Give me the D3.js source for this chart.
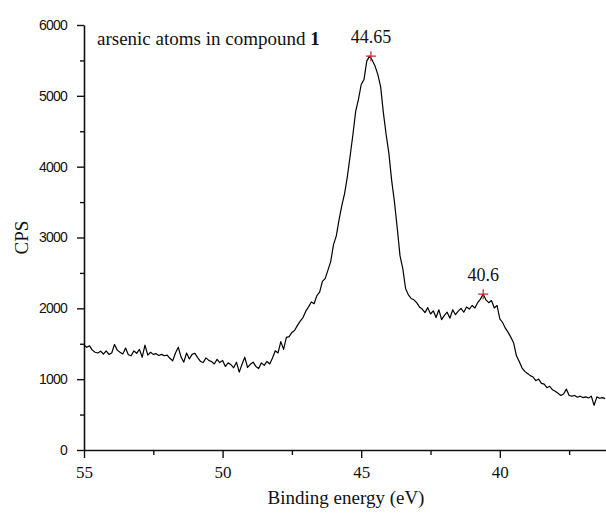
<!DOCTYPE html>
<html>
<head>
<meta charset="utf-8">
<script src="https://cdn.jsdelivr.net/npm/d3@7"></script>
<style>
    body { margin: 0; background: #fff; }
    .serif { font-family: "Liberation Serif", "Times New Roman", serif; fill: #111; }
    .y-axis text { font-family: "Liberation Sans", Arial, sans-serif; font-size: 14px; letter-spacing: -0.8px; fill: #111; }
    .x-axis text { font-family: "Liberation Serif", "Times New Roman", serif; font-size: 17px; fill: #111; }
</style>
</head>
<body>
<div id="chart"></div>
<script>
// binding energy runs from 55.0 down to 36.2 eV in 0.1 eV steps
const energyStart = 55.0;
const energyStep = 0.1;

// counts per second, one row per eV
const cps = [
    1480, 1450, 1470, 1410, 1380, 1370, 1395, 1355, 1400, 1350,
    1370, 1490, 1410, 1380, 1355, 1440, 1345, 1330, 1400, 1365,
    1420, 1310, 1480, 1340, 1380, 1350, 1360, 1335, 1350, 1330,
    1340, 1295, 1260, 1370, 1450, 1315, 1240, 1370, 1285, 1350,
    1365, 1305, 1250, 1235, 1300, 1265, 1250, 1215, 1280, 1235,
    1265, 1180, 1230, 1205, 1160, 1240, 1100, 1210, 1310, 1165,
    1210, 1240, 1180, 1150, 1230, 1195, 1250, 1215, 1300, 1400,
    1370, 1530, 1420, 1590, 1600, 1660, 1690, 1760, 1820, 1870,
    1960, 2020, 2090, 2065, 2180, 2230, 2380, 2420, 2540, 2660,
    2900, 3020, 3250, 3450, 3620, 3860, 4150, 4450, 4780, 4950,
    5160, 5230, 5490, 5560, 5500, 5420, 5300, 5130, 4760, 4450,
    4180, 3800, 3500, 3130, 2740, 2560, 2280, 2190, 2140, 2120,
    2080, 2020, 1990, 1940, 2010, 1920, 1965, 1870, 1980, 1840,
    1900, 1945, 1860, 1980, 1910, 1960, 2000, 1945, 2020, 1990,
    2040, 2005, 2080, 2130, 2200, 2120, 2080, 2110, 2005, 2040,
    1850, 1800, 1720, 1660, 1590, 1510, 1330, 1250, 1160, 1110,
    1080, 1050, 1030, 980, 1000, 940, 930, 880, 900, 850,
    830, 800, 770, 790, 860, 770, 760, 770, 745, 760,
    740, 750, 735, 760, 630, 750, 730, 740, 725
];

// marked peaks
const peakEnergy = [44.65, 40.6];
const peakCps = [5560, 2200];
const peakLabels = ["44.65", "40.6"];

const xTicks = [55, 50, 45, 40];
const xMinorTicks = [52.5, 47.5, 42.5, 37.5];
const yTicks = [0, 1000, 2000, 3000, 4000, 5000, 6000];
const yMinorTicks = [500, 1500, 2500, 3500, 4500, 5500];

class XpsChart {

    constructor(_parentElement) {
        this.parentElement = _parentElement;
        this.data = cps.map((v, i) => ({ energy: energyStart - i * energyStep, cps: v }));
        this.peaks = peakEnergy.map((e, i) => ({ energy: e, cps: peakCps[i], label: peakLabels[i] }));

        this.initVis();
    }

    initVis() {
        let vis = this;

        vis.margin = { top: 25, right: 0, bottom: 64, left: 84 };
        vis.width = 606 - vis.margin.left - vis.margin.right;
        vis.height = 514 - vis.margin.top - vis.margin.bottom;

        vis.svg = d3.select("#" + vis.parentElement).append("svg")
            .attr("width", 606)
            .attr("height", 514)
            .append("g")
            .attr("transform", "translate(" + vis.margin.left + "," + vis.margin.top + ")");

        // energy axis is reversed, high binding energy on the left
        vis.xScale = d3.scaleLinear()
            .domain([55, 36.17])
            .range([0, vis.width]);

        vis.yScale = d3.scaleLinear()
            .domain([0, 6000])
            .range([vis.height, 0]);

        vis.updateVis();
    }

    updateVis() {
        let vis = this;

        // minor ticks first, so the major axis draws on top
        vis.svg.append("g")
            .attr("class", "x-minor")
            .attr("transform", "translate(0," + vis.height + ")")
            .call(d3.axisBottom(vis.xScale).tickValues(xMinorTicks).tickSize(5).tickFormat(""))
            .call(g => g.select(".domain").remove());

        vis.svg.append("g")
            .attr("class", "y-minor")
            .call(d3.axisLeft(vis.yScale).tickValues(yMinorTicks).tickSize(4).tickFormat(""))
            .call(g => g.select(".domain").remove());

        vis.svg.append("g")
            .attr("class", "x-axis")
            .attr("transform", "translate(0," + vis.height + ")")
            .call(d3.axisBottom(vis.xScale).tickValues(xTicks).tickSize(8).tickSizeOuter(0).tickPadding(8).tickFormat(d3.format("d")));

        vis.svg.append("g")
            .attr("class", "y-axis")
            .call(d3.axisLeft(vis.yScale).tickValues(yTicks).tickSize(7).tickSizeOuter(0).tickPadding(10).tickFormat(d3.format("d")));

        vis.svg.selectAll(".domain").attr("stroke", "#111").attr("stroke-width", 1.6);
        vis.svg.selectAll(".tick line").attr("stroke", "#111").attr("stroke-width", 1.4);

        // spectrum
        const line = d3.line()
            .x(d => vis.xScale(d.energy))
            .y(d => vis.yScale(d.cps));

        vis.svg.append("path")
            .datum(vis.data)
            .attr("fill", "none")
            .attr("stroke", "#000")
            .attr("stroke-width", 1.2)
            .attr("stroke-linejoin", "round")
            .attr("d", line);

        // peak markers
        const peak = vis.svg.selectAll(".peak")
            .data(vis.peaks)
            .enter()
            .append("g")
            .attr("class", "peak")
            .attr("transform", d => "translate(" + vis.xScale(d.energy) + "," + vis.yScale(d.cps) + ")");

        peak.append("path")
            .attr("d", "M-5,0H5M0,-5V5")
            .attr("stroke", "#d4202c")
            .attr("stroke-width", 1.2);

        peak.append("text")
            .attr("class", "serif")
            .attr("y", -13)
            .attr("text-anchor", "middle")
            .style("font-size", "18px")
            .text(d => d.label);

        // title inside the plot
        const title = vis.svg.append("text")
            .attr("class", "serif")
            .attr("x", 13)
            .attr("y", 20)
            .style("font-size", "19px");
        title.append("tspan").text("arsenic atoms in compound ");
        title.append("tspan").style("font-weight", "bold").text("1");

        // axis titles
        vis.svg.append("text")
            .attr("class", "serif")
            .attr("x", 262)
            .attr("y", vis.height + 54)
            .attr("text-anchor", "middle")
            .style("font-size", "19px")
            .text("Binding energy (eV)");

        vis.svg.append("text")
            .attr("class", "serif")
            .attr("transform", "translate(-56," + (vis.height / 2) + ") rotate(-90)")
            .attr("text-anchor", "middle")
            .style("font-size", "19px")
            .text("CPS");
    }
}

new XpsChart("chart");
</script>
</body>
</html>
